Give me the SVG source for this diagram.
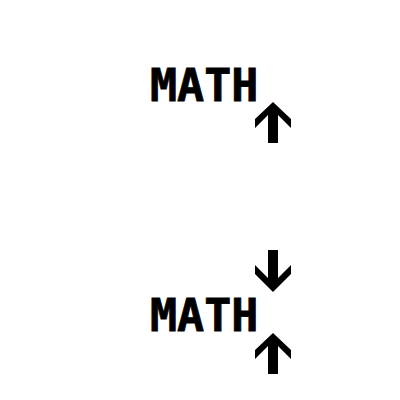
<svg xmlns="http://www.w3.org/2000/svg" width="400" height="400" viewBox="0 0 400 400">
<style>
.t{font-family:"DejaVu Sans Mono","Liberation Mono",monospace;font-weight:bold;font-size:45px;fill:#000;stroke:#000;stroke-width:0.8px}
.a{fill:#000}
</style>
<rect width="400" height="400" fill="#fff"/>
<g id="top">
<text class="t" x="150" y="101">MATH</text>
<polygon class="a" points="273,102 291,119 291,128 278,115 278,143 268,143 268,115 255,128 255,119"/>
</g>
<g id="bottom">
<polygon class="a" points="268,250 278,250 278,278 291,265 291,274 273,292 255,274 255,265 268,278"/>
<text class="t" x="150" y="331">MATH</text>
<polygon class="a" points="273,333 291,350 291,359 278,346 278,374 268,374 268,346 255,359 255,350"/>
</g>
</svg>
